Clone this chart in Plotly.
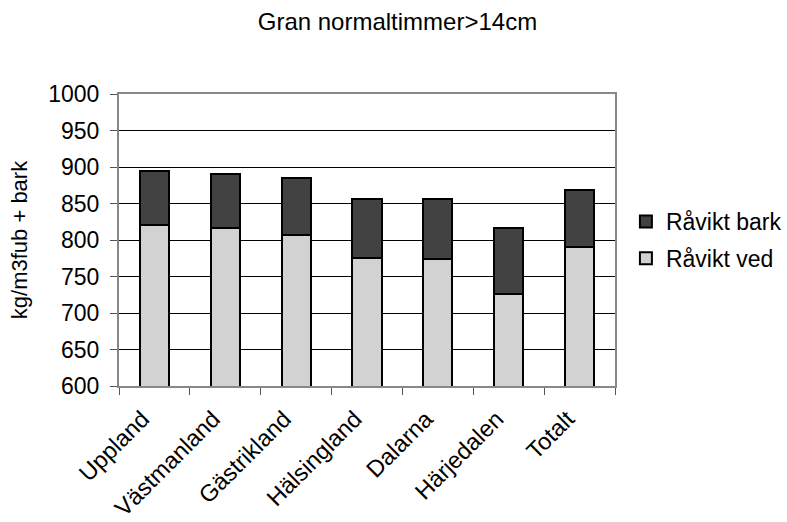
import plotly.graph_objects as go

categories = ["Uppland", "Västmanland", "Gästrikland", "Hälsingland", "Dalarna", "Härjedalen", "Totalt"]
ved = [820, 817, 807, 775, 774, 726, 790]
total = [895, 891, 885, 856, 856, 817, 869]
bark = [t - v for t, v in zip(total, ved)]

FONT = "Liberation Sans, Arial, sans-serif"

fig = go.Figure()
fig.add_trace(go.Bar(
    x=categories, y=ved, name="Råvikt ved",
    marker=dict(color="#d2d2d2", line=dict(color="black", width=2)),
    legendrank=2, legendgroup="ved",
))
fig.add_trace(go.Bar(
    x=categories, y=bark, name="Råvikt bark",
    marker=dict(color="#424242", line=dict(color="black", width=2)),
    legendrank=1, legendgroup="bark",
))

fig.update_layout(
    width=787, height=522,
    barmode="stack",
    bargap=0.59,
    paper_bgcolor="white", plot_bgcolor="white",
    margin=dict(l=119, r=172, t=94, b=136, autoexpand=False),
    font=dict(family=FONT, size=23, color="black"),
    title=dict(text="Gran normaltimmer>14cm", x=0.505, xanchor="center",
               y=1 - 22 / 522, yanchor="middle", font=dict(size=24)),
    legend=dict(x=1.022, y=(386 - 240) / 292, xanchor="left", yanchor="middle",
                traceorder="grouped", tracegroupgap=4,
                font=dict(size=23), bgcolor="rgba(0,0,0,0)"),
    showlegend=True,
)
fig.update_yaxes(
    range=[600, 1000], dtick=50, showgrid=True, gridcolor="black", gridwidth=1,
    showline=True, linecolor="#888", linewidth=2, mirror=True,
    ticks="outside", ticklen=7, tickcolor="#555", ticklabelstandoff=6,
    title=dict(text="kg/m3fub + bark", font=dict(size=22), standoff=15),
    zeroline=False,
)
fig.update_xaxes(
    tickangle=-45, showline=True, linecolor="#888", linewidth=2, mirror=True,
    ticks="outside", tickson="boundaries", ticklen=7, tickcolor="#555",
    ticklabelstandoff=8, ticklabelshift=-12, tickfont=dict(size=23.5),
    showgrid=False,
)
fig.write_html("out.html")
